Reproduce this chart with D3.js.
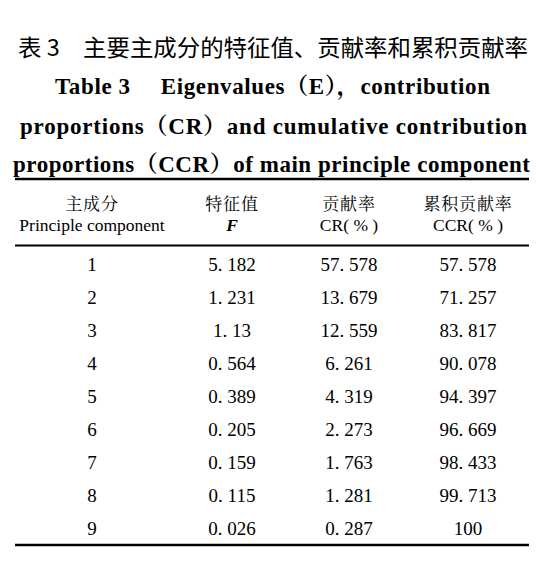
<!DOCTYPE html>
<html>
<head>
<meta charset="utf-8">
<script src="https://cdn.jsdelivr.net/npm/d3@7"></script>
<style>
  html, body { margin: 0; padding: 0; background: #fff; }
  svg { display: block; }
</style>
</head>
<body>
<svg id="chart" width="536" height="566"></svg>
<script>
// table contents
const captionZh = "表 3\u2003主要主成分的特征值、贡献率和累积贡献率";
const titleLines = [
  "Table 3\u2003 Eigenvalues（E），contribution",
  "proportions（CR）and cumulative contribution",
  "proportions（CCR）of main principle component"
];
const headerZh = ["主成分", "特征值", "贡献率", "累积贡献率"];
const headerEn = ["Principle component", "F", "CR( % )", "CCR( % )"];
const components = ["1", "2", "3", "4", "5", "6", "7", "8", "9"];
const eigenvalues = ["5.182", "1.231", "1.13", "0.564", "0.389", "0.205", "0.159", "0.115", "0.026"];
const contribution = ["57.578", "13.679", "12.559", "6.261", "4.319", "2.273", "1.763", "1.281", "0.287"];
const cumulative = ["57.578", "71.257", "83.817", "90.078", "94.397", "96.669", "98.433", "99.713", "100"];

const svg = d3.select("#chart");
const serif = "'Liberation Serif', 'Noto Serif CJK SC', serif";
const song = "'Noto Serif CJK SC', serif";
const hei = "'Noto Sans CJK SC', sans-serif";

const left = 15, right = 529;
// column centres are not evenly spaced in the original
const x = d3.scaleOrdinal().domain(d3.range(4)).range([92, 232, 349, 468]);
const y = d3.scaleBand().domain(components).range([247, 544]);

// caption
svg.append("text")
    .attr("x", 18).attr("y", 56)
    .attr("textLength", 510).attr("lengthAdjust", "spacingAndGlyphs")
    .style("font-family", hei).style("font-size", "23px").style("font-weight", 400)
    .text(captionZh);

const capX = [55, 20, 13], capW = [435, 507, 517];
svg.selectAll("text.cap").data(titleLines).enter()
    .append("text").attr("class", "cap")
    .attr("x", (d, i) => capX[i])
    .attr("y", (d, i) => [94, 134, 172][i])
    .attr("textLength", (d, i) => capW[i]).attr("lengthAdjust", "spacing")
    .style("font-family", serif).style("font-size", "23px").style("font-weight", "bold")
    .text(d => d);

// rules
svg.selectAll("line.rule").data([{y: 179, w: 2.5}, {y: 245.5, w: 2}, {y: 545, w: 2.5}]).enter()
    .append("line").attr("class", "rule")
    .attr("x1", left).attr("x2", right)
    .attr("y1", d => d.y).attr("y2", d => d.y)
    .attr("stroke", "#000").attr("stroke-width", d => d.w);

// header
svg.selectAll("text.hzh").data(headerZh).enter()
    .append("text").attr("class", "hzh")
    .attr("x", (d, i) => x(i)).attr("y", 209.5)
    .attr("text-anchor", "middle")
    .style("font-family", song).style("font-size", "17px").style("letter-spacing", "0.8px")
    .text(d => d);

svg.selectAll("text.hen").data(headerEn).enter()
    .append("text").attr("class", "hen")
    .attr("x", (d, i) => x(i)).attr("y", 230.5)
    .attr("text-anchor", "middle")
    .style("font-family", serif).style("font-size", "17.5px")
    .style("font-style", (d, i) => i === 1 ? "italic" : "normal")
    .style("font-weight", (d, i) => i === 1 ? "bold" : "normal")
    .text(d => d);

// body rows
const rows = components.map((c, i) => [c, eigenvalues[i], contribution[i], cumulative[i]]);
const fmt = s => s.replace(".", ". ");

const gRow = svg.selectAll("g.row").data(rows).enter()
    .append("g").attr("class", "row")
    .attr("transform", (d, i) => `translate(0,${y(components[i]) + y.bandwidth() / 2 + 7.5})`);

gRow.selectAll("text").data(d => d).enter()
    .append("text")
    .attr("x", (d, i) => x(i))
    .attr("text-anchor", "middle")
    .style("font-family", serif).style("font-size", "19px")
    .text(d => fmt(d));
</script>
</body>
</html>
